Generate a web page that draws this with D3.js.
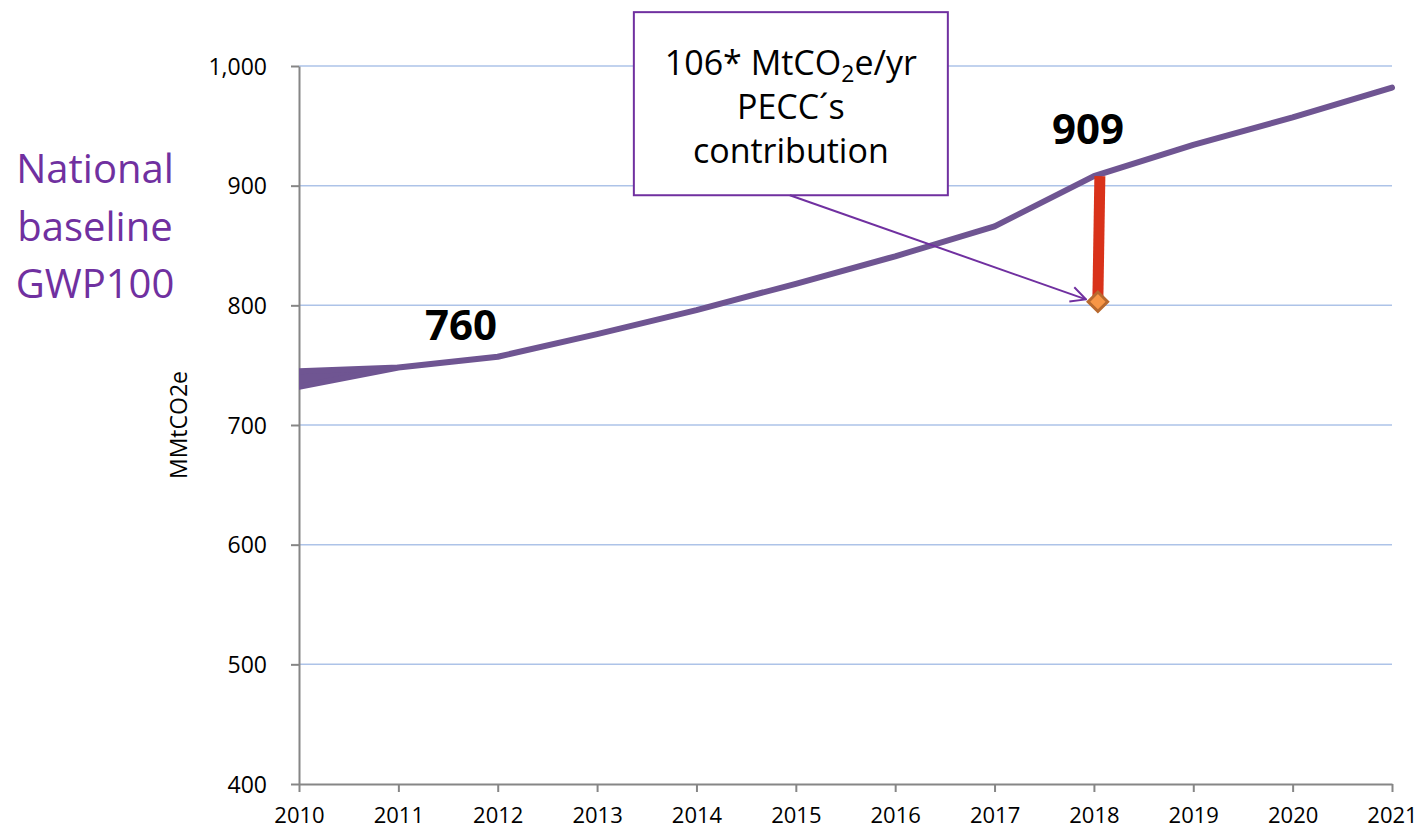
<!DOCTYPE html>
<html>
<head>
<meta charset="utf-8">
<script src="https://cdn.jsdelivr.net/npm/d3@7/dist/d3.min.js"></script>
<style>
  html, body { margin: 0; padding: 0; background: #fff; }
  svg { display: block; }
  text { font-family: "Open Sans", "Noto Sans", sans-serif; }
</style>
</head>
<body>
<svg id="chart" width="1422" height="829"></svg>
<script>
// ---- data ----
const years = [2010, 2011, 2012, 2013, 2014, 2015, 2016, 2017, 2018, 2019, 2020, 2021];
const baselineHigh = [745, 748, 757, 776, 796, 818, 841, 866, 908, 934, 957, 982];
const baselineLow  = [732, 748, 757, 776, 796, 818, 841, 866, 908, 934, 957, 982];
const yTicks = [400, 500, 600, 700, 800, 900, 1000];
const xTicks = years;
const reductionLine = [{x: 2018.06, y: 908}, {x: 2018.04, y: 806}];
const pointPECC = {x: 2018.04, y: 803};
const valueLabels = [{x: 2011.63, ly: 771, text: "760"}, {x: 2017.94, ly: 935, text: "909"}];
const noteBox = {x0: 2013.37, x1: 2016.53, y0: 1045, y1: 892};
const noteLines = ["106* MtCO|2|e/yr", "PECC´s", "contribution"];
const noteArrow = [{x: 2014.94, y: 892}, {x: 2017.92, y: 805}];
const titleLines = ["National", "baseline", "GWP100"];
const yAxisTitle = "MMtCO2e";

// ---- layout ----
const svg = d3.select("#chart");
const x = d3.scaleLinear().domain([2010, 2021]).range([299, 1392]);
const y = d3.scaleLinear().domain([400, 1000]).range([784, 66]);
const purple = "#7030a0";
const lineCol = "#6f5592";

const defs = svg.append("defs");
defs.append("clipPath").attr("id", "plotclip").append("rect")
  .attr("x", x(2010)).attr("y", 0).attr("width", x(2021) - x(2010) + 4).attr("height", y(400));

// gridlines
svg.append("g").selectAll("line").data(yTicks.filter(d => d > 400)).join("line")
  .attr("x1", x(2010)).attr("x2", x(2021))
  .attr("y1", d => y(d)).attr("y2", d => y(d))
  .attr("stroke", "#adc3e8").attr("stroke-width", 1.5);

// axes
const yAxis = d3.axisLeft(y).tickValues(yTicks).tickSize(8).tickSizeOuter(0)
  .tickFormat(d3.format(","));
const gy = svg.append("g").attr("transform", `translate(${x(2010)},0)`).call(yAxis);
gy.select(".domain").attr("stroke", "#868686").attr("stroke-width", 2);
gy.selectAll(".tick line").attr("stroke", "#868686").attr("stroke-width", 2);
gy.selectAll(".tick text").attr("font-size", 23).attr("fill", "#000")
  .attr("font-family", "'Open Sans', sans-serif").attr("x", -32).attr("dy", "0.36em");

const xAxis = d3.axisBottom(x).tickValues(xTicks).tickSize(8).tickSizeOuter(0)
  .tickFormat(d3.format("d"));
const gx = svg.append("g").attr("transform", `translate(0,${y(400)})`).call(xAxis);
gx.select(".domain").attr("stroke", "#868686").attr("stroke-width", 2);
gx.selectAll(".tick line").attr("stroke", "#868686").attr("stroke-width", 2);
gx.selectAll(".tick text").attr("font-size", 22).attr("fill", "#000")
  .attr("font-family", "'Open Sans', sans-serif").attr("y", 23).attr("dy", "0.71em");

// y axis title
svg.append("text")
  .attr("transform", `translate(187,${(y(400)+y(1000))/2}) rotate(-90)`)
  .attr("text-anchor", "middle").attr("font-size", 23).text(yAxisTitle);

// baseline band + line
const rows = years.map((yr, i) => ({yr, hi: baselineHigh[i], lo: baselineLow[i]}));
svg.append("path").datum(rows)
  .attr("clip-path", "url(#plotclip)")
  .attr("d", d3.area().x(d => x(d.yr)).y0(d => y(d.lo)).y1(d => y(d.hi)))
  .attr("fill", lineCol).attr("stroke", lineCol).attr("stroke-width", 6)
  .attr("stroke-linejoin", "round");

// reduction line
svg.append("path").datum(reductionLine)
  .attr("d", d3.line().x(d => x(d.x)).y(d => y(d.y)))
  .attr("stroke", "#d9321a").attr("stroke-width", 11).attr("fill", "none");

// note box
svg.append("rect")
  .attr("x", x(noteBox.x0)).attr("y", y(noteBox.y0))
  .attr("width", x(noteBox.x1) - x(noteBox.x0)).attr("height", y(noteBox.y1) - y(noteBox.y0))
  .attr("fill", "#fff").attr("stroke", purple).attr("stroke-width", 2);
const cx = (x(noteBox.x0) + x(noteBox.x1)) / 2;
noteLines.forEach((ln, i) => {
  const t = svg.append("text").attr("x", cx).attr("y", y(noteBox.y0) + 63 + i * 44)
    .attr("text-anchor", "middle").attr("font-size", 34).attr("fill", "#000");
  const parts = ln.split("|");
  parts.forEach((p, j) => {
    const ts = t.append("tspan").text(p);
    if (j === 1) ts.attr("font-size", 23).attr("dy", 7);
    if (j === 2) ts.attr("dy", -7);
  });
});

// arrow
defs.append("marker").attr("id", "arr").attr("viewBox", "0 0 12 12")
  .attr("refX", 11).attr("refY", 6).attr("markerWidth", 18).attr("markerHeight", 18)
  .attr("markerUnits", "userSpaceOnUse").attr("orient", "auto")
  .append("path").attr("d", "M1,1 L11,6 L1,11").attr("fill", "none")
  .attr("stroke", purple).attr("stroke-width", 1.3);
svg.append("path").datum(noteArrow)
  .attr("d", d3.line().x(d => x(d.x)).y(d => y(d.y)))
  .attr("stroke", purple).attr("stroke-width", 2).attr("fill", "none")
  .attr("marker-end", "url(#arr)");

// PECC point
svg.append("path")
  .attr("d", d3.symbol().type(d3.symbolSquare).size(190)())
  .attr("transform", `translate(${x(pointPECC.x)},${y(pointPECC.y)}) rotate(45)`)
  .attr("fill", "#f79646").attr("stroke", "#b8692e").attr("stroke-width", 3);

// value labels
svg.append("g").selectAll("text").data(valueLabels).join("text")
  .attr("x", d => x(d.x)).attr("y", d => y(d.ly))
  .attr("text-anchor", "middle").attr("font-size", 42).attr("font-weight", "bold")
  .attr("fill", "#000").text(d => d.text);

// title
svg.append("g").selectAll("text").data(titleLines).join("text")
  .attr("x", 95).attr("y", (d, i) => 183 + i * 57.5)
  .attr("text-anchor", "middle").attr("font-size", 40).attr("fill", purple)
  .text(d => d);
</script>
</body>
</html>
